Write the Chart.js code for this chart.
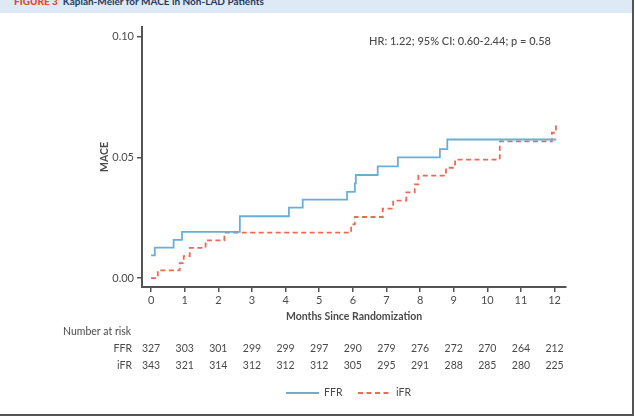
<!DOCTYPE html>
<html>
<head>
<meta charset="utf-8">
<script src="https://cdn.jsdelivr.net/npm/chart.js@4"></script>
<style>
  html, body { margin: 0; padding: 0; background: #fff; }
  #wrap { position: relative; width: 635px; height: 417px; overflow: hidden; font-family: Lato, sans-serif; }
  #band { position: absolute; left: 0; top: 0; width: 632px; height: 13px; background: #dde9f5; overflow: hidden; }
  #band div { position: absolute; left: 14px; top: -5px; font-size: 10px; line-height: 12px; font-weight: bold; color: #1f3a5f; white-space: nowrap; }
  #band b { color: #e5462e; margin-right: 5px; }
  #rborder { position: absolute; left: 632px; top: 0; width: 2px; height: 416px; background: #555; }
  #bborder { position: absolute; left: 0; top: 414px; width: 634px; height: 2px; background: #555; }
  #chart { position: absolute; left: 0; top: 0; }
</style>
</head>
<body>
<div id="wrap">
  <div id="band"><div><b>FIGURE 3</b>Kaplan-Meier for MACE in Non-LAD Patients</div></div>
  <canvas id="chart" width="635" height="417"></canvas>
  <div id="rborder"></div>
  <div id="bborder"></div>
</div>
<script>
// months on the x axis
const months = [0, 1, 2, 3, 4, 5, 6, 7, 8, 9, 10, 11, 12];
const yTicks = [0, 0.05, 0.10];

// cumulative MACE (time in months, value)
const ffrTimes = [0, 0.11, 0.67, 0.92, 2.64, 4.10, 4.51, 5.83, 6.06, 6.09, 6.74, 7.34, 8.59, 8.81, 12.05];
const ffrMace  = [0.0094, 0.0126, 0.0158, 0.0191, 0.0256, 0.0292, 0.0325, 0.0357, 0.0392, 0.0427, 0.0463, 0.0500, 0.0534, 0.0574, 0.0574];

const ifrTimes = [0, 0.20, 0.85, 0.97, 1.15, 1.62, 2.18, 5.95, 6.06, 6.89, 7.20, 7.59, 7.84, 7.95, 8.77, 9.04, 10.37, 11.92, 12.04];
const ifrMace  = [0, 0.0032, 0.0062, 0.0091, 0.0125, 0.0156, 0.0188, 0.0222, 0.0253, 0.0288, 0.0321, 0.0355, 0.0388, 0.0424, 0.0457, 0.0491, 0.0566, 0.0602, 0.0638];

// number at risk
const ffrAtRisk = [327, 303, 301, 299, 299, 297, 290, 279, 276, 272, 270, 264, 212];
const ifrAtRisk = [343, 321, 314, 312, 312, 312, 305, 295, 291, 288, 285, 280, 225];

const statsText = 'HR: 1.22; 95% CI: 0.60-2.44; p = 0.58';

const blue = '#6aaed8';
const red = '#ec6a54';
const textGray = '#4a4a4a';
const axisGray = '#555';
const font = 'Lato, sans-serif';

const extras = {
    id: 'extras',
    afterDraw(chart) {
        const ctx = chart.ctx;
        const x = chart.scales.x;
        ctx.save();
        ctx.fillStyle = textGray;
        ctx.font = '500 11px ' + font;
        ctx.textAlign = 'center';
        ctx.textBaseline = 'middle';
        ctx.fillText(statsText, 460, 41);

        // risk table
        ctx.font = '10.5px ' + font;
        ctx.textAlign = 'left';
        ctx.fillText('Number at risk', 63, 332);
        ctx.textAlign = 'right';
        ctx.fillText('FFR', 132, 349);
        ctx.fillText('iFR', 132, 366);
        ctx.textAlign = 'center';
        months.forEach((m, i) => {
            const px = x.getPixelForValue(m);
            ctx.fillText(ffrAtRisk[i], px, 349);
            ctx.fillText(ifrAtRisk[i], px, 366);
        });

        // legend
        ctx.lineWidth = 1.8;
        ctx.strokeStyle = blue;
        ctx.beginPath();
        ctx.moveTo(286, 393);
        ctx.lineTo(319, 393);
        ctx.stroke();
        ctx.strokeStyle = red;
        ctx.setLineDash([5, 3.5]);
        ctx.beginPath();
        ctx.moveTo(358, 393);
        ctx.lineTo(392, 393);
        ctx.stroke();
        ctx.setLineDash([]);
        ctx.textAlign = 'left';
        ctx.fillText('FFR', 324, 393);
        ctx.fillText('iFR', 396, 393);
        ctx.restore();
    }
};

new Chart(document.getElementById('chart').getContext('2d'), {
    type: 'line',
    data: {
        datasets: [{
            label: 'FFR',
            data: ffrTimes.map((t, i) => ({ x: t, y: ffrMace[i] })),
            borderColor: blue,
            borderWidth: 1.8,
            pointRadius: 0,
            stepped: 'before',
            fill: false,
        }, {
            label: 'iFR',
            data: ifrTimes.map((t, i) => ({ x: t, y: ifrMace[i] })),
            borderColor: red,
            borderWidth: 1.8,
            borderDash: [5, 3.5],
            pointRadius: 0,
            stepped: 'before',
            fill: false,
        }]
    },
    options: {
        responsive: false,
        animation: false,
        layout: {
            padding: { left: 0, right: 69, top: 27, bottom: 94 }
        },
        scales: {
            x: {
                type: 'linear',
                min: -0.27,
                max: 12.34,
                afterBuildTicks: axis => { axis.ticks = months.map(v => ({ value: v })); },
                afterFit: axis => { axis.height = 36; },
                ticks: {
                    color: textGray,
                    font: { family: font, size: 11 },
                    padding: 2,
                    callback: v => v
                },
                grid: {
                    drawOnChartArea: false,
                    drawTicks: true,
                    tickLength: 5,
                    color: axisGray,
                    lineWidth: 1.5
                },
                border: { color: axisGray, width: 2 },
                title: {
                    display: true,
                    text: 'Months Since Randomization',
                    color: textGray,
                    font: { family: font, size: 10.5, weight: 'bold' },
                    padding: 0
                }
            },
            y: {
                min: -0.0037,
                max: 0.104,
                afterBuildTicks: axis => { axis.ticks = yTicks.map(v => ({ value: v })); },
                afterFit: axis => { axis.width = 142; },
                ticks: {
                    color: textGray,
                    font: { family: font, size: 11 },
                    padding: 3,
                    callback: v => v.toFixed(2)
                },
                grid: {
                    drawOnChartArea: false,
                    drawTicks: true,
                    tickLength: 5,
                    color: axisGray,
                    lineWidth: 1.5
                },
                border: { color: axisGray, width: 2 },
                title: {
                    display: true,
                    text: 'MACE',
                    color: textGray,
                    font: { family: font, size: 10.5, weight: 'bold' },
                    padding: { top: 98, bottom: 0 }
                }
            }
        },
        plugins: {
            legend: { display: false },
            tooltip: { enabled: false }
        }
    },
    plugins: [extras]
});
</script>
</body>
</html>
